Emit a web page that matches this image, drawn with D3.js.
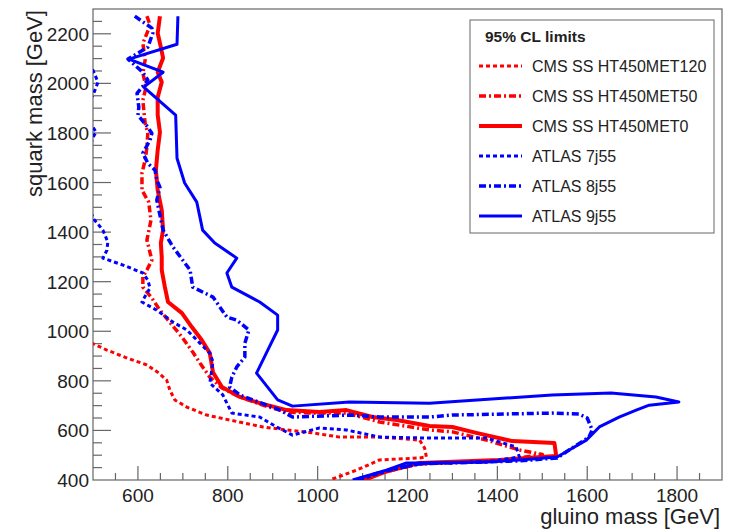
<!DOCTYPE html>
<html>
<head>
<meta charset="utf-8">
<script src="https://cdn.jsdelivr.net/npm/d3@7"></script>
<style>
  body { margin: 0; background: #fff; }
  svg text { font-family: "Liberation Sans", Arial, sans-serif; fill: #222; }
</style>
</head>
<body>
<div id="chart"></div>
<script>
// gluino mass (x) vs squark mass (y), GeV
var cmsMet120 = [[482,965],[531,924],[576,892],[620,864],[644,835],[664,803],[671,763],[682,723],[709,694],[753,662],
  [804,642],[878,614],[931,602],[989,590],[1049,573],[1138,573],[1227,561],[1238,529],[1242,493],[1227,489],
  [1138,481],[1087,440],[1027,400]];
var cmsMet50 = [[620,2271],[627,2235],[620,2202],[611,2162],[616,2094],[611,2041],[618,1985],[611,1932],[613,1892],[616,1840],
  [622,1799],[620,1743],[616,1690],[609,1638],[609,1569],[624,1521],[629,1448],[620,1368],[631,1287],[620,1247],
  [611,1219],[611,1178],[631,1134],[649,1085],[676,1025],[698,977],[722,916],[738,872],[760,815],[787,771],
  [827,735],[878,702],[931,674],[989,670],[1064,670],[1138,634],[1249,602],[1300,594],[1376,561],[1449,521],
  [1500,503],[1404,477],[1227,465],[1138,428],[1093,400]];
var cmsMet0 = [[649,2271],[644,2202],[651,2146],[656,2102],[644,2045],[653,2005],[644,1944],[644,1872],[649,1803],[644,1731],
  [640,1650],[644,1569],[653,1489],[656,1408],[651,1356],[653,1299],[653,1247],[660,1178],[667,1118],[698,1073],
  [720,1017],[742,965],[760,912],[767,835],[787,775],[827,735],[871,710],[931,682],[1004,674],[1064,682],
  [1122,654],[1176,642],[1249,618],[1300,614],[1353,590],[1433,557],[1527,549],[1531,497],[1404,481],[1227,469],
  [1149,432],[1104,400]];
var atlas7j = [[450,2200],[500,2053],[511,2005],[500,1952],[470,1890],[500,1823],[507,1803],[500,1783],[470,1620],
  [500,1456],[522,1408],[533,1360],[531,1327],[522,1295],[567,1267],[611,1235],[622,1206],[627,1174],[620,1154],
  [609,1118],[642,1085],[678,1037],[709,1005],[738,952],[760,912],[767,876],[760,791],[789,743],[809,670],
  [871,654],[909,614],[944,581],[1004,610],[1064,602],[1138,573],[1249,569],[1376,569],[1442,533],[1449,493],
  [1376,473],[1227,466],[1160,440],[1093,400]];
var atlas8j = [[593,2271],[631,2223],[633,2202],[622,2146],[578,2098],[611,2045],[622,2013],[598,1960],[602,1904],[600,1872],
  [622,1823],[631,1799],[627,1771],[611,1719],[622,1678],[638,1650],[642,1610],[649,1581],[642,1529],[656,1408],
  [678,1340],[716,1247],[722,1178],[767,1138],[798,1057],[820,1045],[847,1005],[838,952],[838,896],[820,856],
  [809,815],[804,775],[827,743],[856,723],[916,682],[944,654],[1071,662],[1138,654],[1249,654],[1300,662],
  [1522,670],[1582,666],[1600,650],[1611,602],[1604,573],[1553,513],[1533,489],[1449,477],[1227,465],[1149,436],
  [1082,400]];
var atlas9j = [[689,2271],[687,2158],[580,2098],[656,2045],[613,1985],[684,1872],[687,1698],[704,1598],[731,1521],[744,1408],
  [771,1356],[820,1295],[798,1235],[809,1178],[871,1118],[911,1065],[911,1005],[889,924],[864,831],[911,723],
  [944,698],[1071,715],[1249,710],[1322,719],[1522,743],[1653,751],[1753,735],[1804,715],[1738,702],[1709,682],
  [1671,654],[1627,614],[1598,561],[1560,521],[1533,493],[1449,481],[1376,473],[1227,469],[1198,469],[1153,440],
  [1078,400]];

var seriesNames = ['CMS SS HT450MET120','CMS SS HT450MET50','CMS SS HT450MET0','ATLAS 7j55','ATLAS 8j55','ATLAS 9j55'];
var seriesData = [cmsMet120, cmsMet50, cmsMet0, atlas7j, atlas8j, atlas9j];
var seriesColors = ['#ff0000','#ff0000','#ff0000','#0000ff','#0000ff','#0000ff'];
var seriesDash = ['4,3','7,3,2,3',null,'4,3','7,3,2,3',null];
var seriesWidth = [3,3.5,4,3,3.5,3];

var xMajor = [600,800,1000,1200,1400,1600,1800];
var yMajor = [400,600,800,1000,1200,1400,1600,1800,2000,2200];

var W = 736, H = 532;
var padL = 93, padR = 722, padT = 9, padB = 480;

var svg = d3.select('#chart').append('svg')
  .attr('width', W)
  .attr('height', H);

var x = d3.scaleLinear().domain([500,1900]).range([padL,padR]);
var y = d3.scaleLinear().domain([400,2300]).range([padB,padT]);

svg.append('defs').append('clipPath').attr('id','plotclip')
  .append('rect').attr('x',padL).attr('y',padT).attr('width',padR-padL).attr('height',padB-padT);

// frame
svg.append('rect')
  .attr('x',padL).attr('y',padT).attr('width',padR-padL).attr('height',padB-padT)
  .style('fill','none').style('stroke','#666').style('stroke-width',1.2);

// ticks, pointing inward
var ticks = svg.append('g').style('stroke','#666').style('stroke-width',1.2);
d3.range(550,1900,50).forEach(function(v){
  var big = v % 200 === 0;
  ticks.append('line').attr('x1',x(v)).attr('x2',x(v)).attr('y1',padB).attr('y2',padB-(big?14:7));
});
d3.range(450,2300,50).forEach(function(v){
  var big = v % 200 === 0;
  ticks.append('line').attr('x1',padL).attr('x2',padL+(big?18:9)).attr('y1',y(v)).attr('y2',y(v));
});

svg.selectAll('text.xtick').data(xMajor).enter().append('text')
  .attr('class','xtick')
  .attr('x',function(d){ return x(d); })
  .attr('y',502)
  .attr('text-anchor','middle')
  .style('font-size','19px')
  .text(function(d){ return d; });

svg.selectAll('text.ytick').data(yMajor).enter().append('text')
  .attr('class','ytick')
  .attr('x',89)
  .attr('y',function(d){ return y(d)+7; })
  .attr('text-anchor','end')
  .style('font-size','19px')
  .text(function(d){ return d; });

svg.append('text')
  .attr('x',720).attr('y',524)
  .attr('text-anchor','end')
  .style('font-size','22px')
  .text('gluino mass [GeV]');

svg.append('text')
  .attr('transform','translate(42,10) rotate(-90)')
  .attr('text-anchor','end')
  .style('font-size','22px')
  .text('squark mass [GeV]');

// curves
var line = d3.line()
  .x(function(d){ return x(d[0]); })
  .y(function(d){ return y(d[1]); });

var curves = svg.append('g').attr('clip-path','url(#plotclip)');
seriesData.forEach(function(s,i){
  curves.append('path')
    .attr('d', line(s))
    .style('fill','none')
    .style('stroke', seriesColors[i])
    .style('stroke-width', seriesWidth[i])
    .style('stroke-dasharray', seriesDash[i])
    .style('stroke-linejoin','round');
});

// legend
var legend = svg.append('g');
legend.append('rect')
  .attr('x',470).attr('y',20).attr('width',244).attr('height',213)
  .style('fill','#fff').style('stroke','#666').style('stroke-width',1);
legend.append('text')
  .attr('x',485).attr('y',42)
  .style('font-size','15.5px').style('font-weight','bold')
  .text('95% CL limits');
seriesNames.forEach(function(name,i){
  var ly = 66 + i*30;
  legend.append('line')
    .attr('x1',479).attr('x2',522).attr('y1',ly).attr('y2',ly)
    .style('stroke', seriesColors[i])
    .style('stroke-width', seriesWidth[i])
    .style('stroke-dasharray', seriesDash[i]);
  legend.append('text')
    .attr('x',532).attr('y',ly+6)
    .style('font-size','16px')
    .text(name);
});
</script>
</body>
</html>
